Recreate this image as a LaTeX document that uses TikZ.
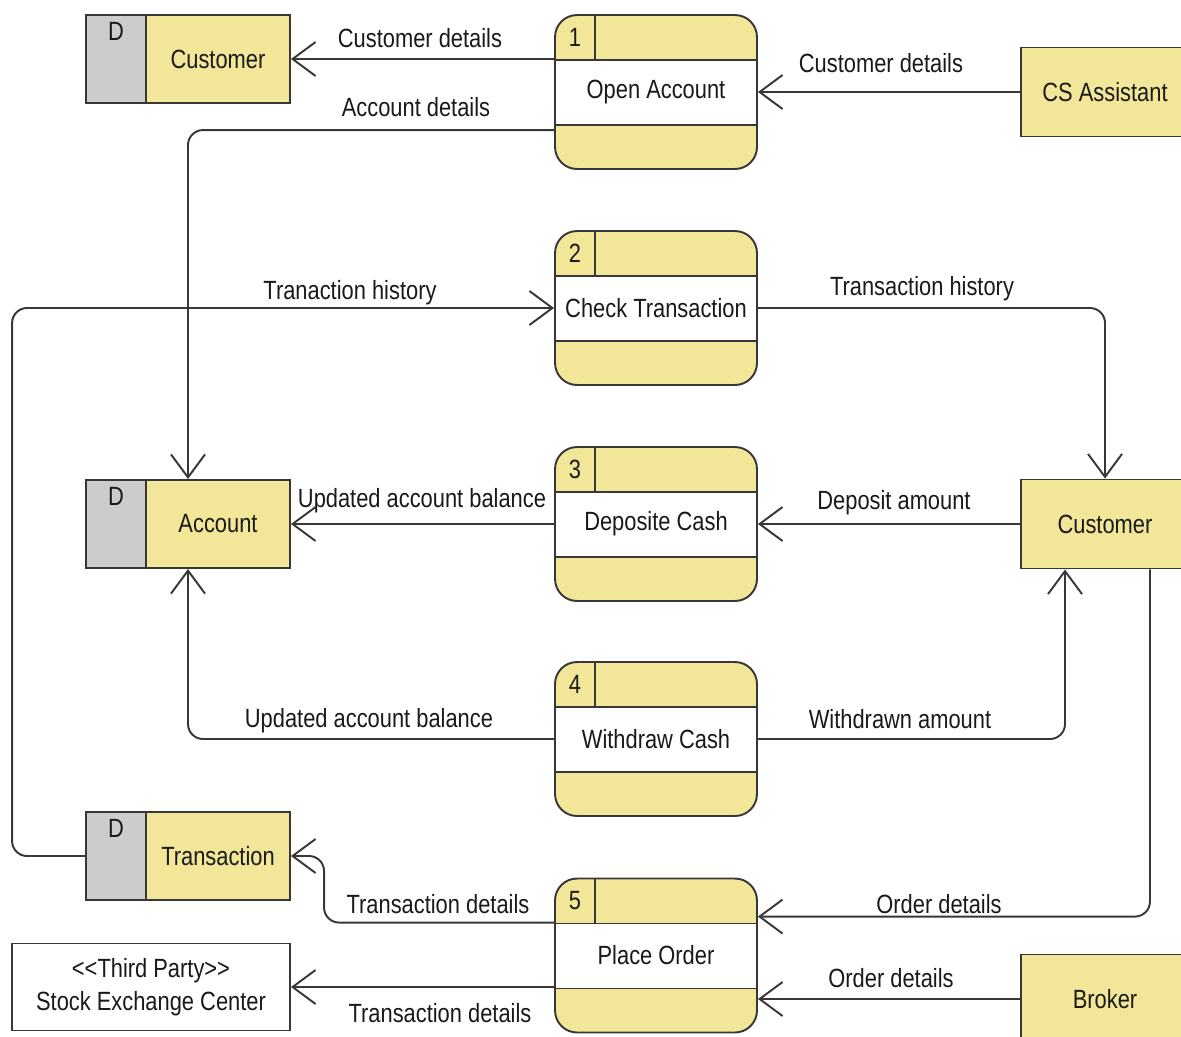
\documentclass[tikz,border=0pt]{standalone}
\usepackage{fontspec}
\setmainfont{Liberation Sans}[FakeStretch=0.83]
\usetikzlibrary{arrows.meta,calc}
\definecolor{dfdyellow}{RGB}{242,230,152}
\definecolor{dfdgray}{RGB}{204,204,204}
\definecolor{dfdline}{RGB}{55,55,55}
\definecolor{dfdtext}{RGB}{25,25,25}
\tikzset{
  every node/.style={font=\fontsize{15}{19}\selectfont, text=dfdtext},
  outline/.style={draw=dfdline, line width=1.1pt},
  entity/.style={outline, fill=dfdyellow, minimum width=3.36cm, minimum height=1.78cm, inner sep=0pt},
  thirdparty/.style={outline, fill=white, minimum width=5.56cm, minimum height=1.74cm, inner sep=0pt, align=center},
  store/.style={outline, fill=dfdyellow, minimum width=4.08cm, minimum height=1.76cm, inner sep=0pt,
    path picture={
      \fill[dfdgray, sharp corners] (path picture bounding box.north west) rectangle ([xshift=1.2cm]path picture bounding box.south west);
      \draw[outline] ([xshift=1.2cm]path picture bounding box.north west) -- ([xshift=1.2cm]path picture bounding box.south west);
    }},
  process/.style={outline, fill=dfdyellow, rounded corners=0.44cm, minimum width=4.04cm, minimum height=3.08cm, inner sep=0pt,
    path picture={
      \fill[white, sharp corners] ([yshift=-0.9cm]path picture bounding box.north west) rectangle ([yshift=0.88cm]path picture bounding box.south east);
      \draw[outline, sharp corners] ([yshift=-0.9cm]path picture bounding box.north west) -- ([yshift=-0.9cm]path picture bounding box.north east);
      \draw[outline, sharp corners] ([yshift=0.88cm]path picture bounding box.south west) -- ([yshift=0.88cm]path picture bounding box.south east);
      \draw[outline, sharp corners] ([xshift=0.8cm]path picture bounding box.north west) -- ([xshift=0.8cm,yshift=-0.9cm]path picture bounding box.north west);
    }},
  flow/.style={draw=dfdline, line width=1.1pt, rounded corners=0.3cm, -{Straight Barb[length=0.46cm,width=0.68cm]}},
  lbl/.style={inner sep=1pt}
}
\begin{document}
\begin{tikzpicture}[x=0.02cm, y=-0.02cm]
\clip (0,0) rectangle (1181,1036);

% data stores
\node[store] (dcust) at (188,59) {};
\node (dcust-d) at (116,31) {D};
\node (dcust-t) at (218,59) {Customer};
\node[store] (dacc) at (188,524) {};
\node (dacc-d) at (116,496) {D};
\node (dacc-t) at (218,524) {Account};
\node[store] (dtr) at (188,856) {};
\node (dtr-d) at (116,828) {D};
\node (dtr-t) at (218,856) {Transaction};

% processes
\node[process] (p1) at (656,92) {Open Account};
\node (p1-n) at (575,37.5) {1};
\node[process] (p2) at (656,308) {Check Transaction};
\node (p2-n) at (575,253) {2};
\node[process] (p3) at (656,524) {Deposite Cash};
\node (p3-n) at (575,469) {3};
\node[process] (p4) at (656,739) {Withdraw Cash};
\node (p4-n) at (575,684) {4};
\node[process] (p5) at (656,955.5) {Place Order};
\node (p5-n) at (575,900.5) {5};

% external entities
\node[entity] (csa) at (1105,92) {CS Assistant};
\node[entity] (cus) at (1105,524) {Customer};
\node[entity] (brk) at (1105,999) {Broker};
\node[thirdparty] (tp) at (151,987) {<{}<Third Party>{}>\\Stock Exchange Center};

% data flows
\draw[flow] (p1.west |- dcust.east) -- (dcust.east);
\draw[flow] (csa.west) -- (p1.east);
\draw[flow] ([yshift=-2.32cm]p1.north west) -| (dacc.north);
\draw[flow] (dtr.west) -- ++(-73,0) |- (p2.west);
\draw[flow] (p2.east) -| (cus.north);
\draw[flow] (p3.west) -- (dacc.east);
\draw[flow] (cus.west) -- (p3.east);
\draw[flow] (p4.west) -| (dacc.south);
\draw[flow] (p4.east) -| ([xshift=-0.8cm]cus.south);
\draw[flow] ([yshift=-0.9cm]p5.north west) -- ++(-230,0) |- (dtr.east);
\draw[flow] ([xshift=0.9cm]cus.south) |- ([yshift=-0.78cm]p5.north east);
\draw[flow] (brk.west) -- (brk.west -| p5.east);
\draw[flow] (p5.west |- tp.east) -- (tp.east);

% flow labels
\node[lbl] (l1) at (420,38) {Customer details};
\node[lbl] (l2) at (881,63) {Customer details};
\node[lbl] (l3) at (416,107) {Account details};
\node[lbl] (l4) at (350,293) {Tranaction history};
\node[lbl] (l5) at (922,289) {Transaction history};
\node[lbl] (l6) at (422,501) {Updated account balance};
\node[lbl] (l7) at (894,503) {Deposit amount};
\node[lbl] (l8) at (369,721) {Updated account balance};
\node[lbl] (l9) at (900,719) {Withdrawn amount};
\node[lbl] (l10) at (438,904) {Transaction details};
\node[lbl] (l11) at (939,904) {Order details};
\node[lbl] (l12) at (891,978) {Order details};
\node[lbl] (l13) at (440,1013) {Transaction details};
\end{tikzpicture}
\end{document}
